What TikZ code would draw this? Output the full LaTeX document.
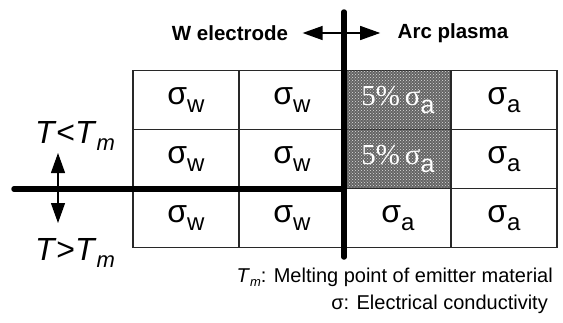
\documentclass[tikz,border=0pt]{standalone}
\usepackage{fontspec}
\setmainfont{Liberation Sans}
\newfontfamily\timesfont{Liberation Serif}
\usetikzlibrary{arrows.meta,positioning,patterns}
\definecolor{gridcolor}{RGB}{40,40,40}
\definecolor{shadecolor}{RGB}{100,100,100}
\tikzset{
  cellbox/.style={draw=gridcolor,line width=1.1pt,minimum width=106pt,minimum height=59pt,
    inner sep=0pt,outer sep=0pt},
  shadedcell/.style={cellbox,fill=shadecolor,
    postaction={pattern=crosshatch dots,pattern color=white!75!gray}},
  boundary/.style={line width=5.5pt,line cap=round},
  doublearrow/.style={{Triangle[length=20pt,width=14pt]}-{Triangle[length=20pt,width=14pt]},line width=1.3pt},
  headlabel/.style={font=\fontsize{20.5}{22}\selectfont\bfseries},
  tlabel/.style={font=\fontsize{32}{34}\selectfont,inner sep=0pt},
  notelabel/.style={font=\fontsize{20}{22}\selectfont,inner sep=0pt},
}
\newcommand{\cond}[1]{{\fontsize{32}{34}\selectfont σ}\raisebox{-8pt}{\fontsize{24}{24}\selectfont #1}}
\newcommand{\weakcond}{\textcolor{white}{{\timesfont\fontsize{29}{30}\selectfont 5\%\,σ}\raisebox{-8pt}{\fontsize{25}{25}\selectfont a}}}

\begin{document}
\begin{tikzpicture}[x=1pt,y=-1pt]
  \useasboundingbox (0,0) rectangle (563,322);
  % cells
  \node[cellbox] (c11) at (186,100) {\cond{w}};
  \node[cellbox,right=0pt of c11] (c12) {\cond{w}};
  \node[shadedcell,right=0pt of c12] (c13) {\weakcond};
  \node[cellbox,right=0pt of c13] (c14) {\cond{a}};
  \node[cellbox,below=0pt of c11] (c21) {\cond{w}};
  \node[cellbox,right=0pt of c21] (c22) {\cond{w}};
  \node[shadedcell,right=0pt of c22] (c23) {\weakcond};
  \node[cellbox,right=0pt of c23] (c24) {\cond{a}};
  \node[cellbox,below=0pt of c21] (c31) {\cond{w}};
  \node[cellbox,right=0pt of c31] (c32) {\cond{w}};
  \node[cellbox,right=0pt of c32] (c33) {\cond{a}};
  \node[cellbox,right=0pt of c33] (c34) {\cond{a}};
  % boundaries
  \coordinate (divtop) at (344,12);
  \coordinate (divbot) at (344,257);
  \coordinate (meltleft) at (14,189);
  \coordinate (meltright) at (344,189);
  \draw[boundary] (divtop) -- (divbot);
  \draw[boundary] (meltleft) -- (meltright);
  % labels
  \node[headlabel] (welec) at (230,33) {W electrode};
  \node[headlabel] (arc) at (453,33) {Arc plasma};
  \draw[doublearrow,shorten <=11pt,shorten >=14pt] (welec) -- (arc);
  \node[tlabel,anchor=base] (tlow) at (75,143)
    {\textit{T}<\textit{T}\raisebox{-7pt}{\fontsize{22}{22}\selectfont\itshape m}};
  \node[tlabel,anchor=base] (thigh) at (75,260)
    {\textit{T}>\textit{T}\raisebox{-7pt}{\fontsize{22}{22}\selectfont\itshape m}};
  \coordinate (tup) at (58,153);
  \coordinate (tdown) at (58,223);
  \draw[doublearrow] (tup) -- (tdown);
  \node[notelabel,anchor=base east] (tmnote) at (553,282)
    {\textit{T}\raisebox{-4pt}{\fontsize{13}{13}\selectfont\itshape m}: Melting point of emitter material};
  \node[notelabel,anchor=base east] (signote) at (548,309) {σ: Electrical conductivity};
\end{tikzpicture}
\end{document}
